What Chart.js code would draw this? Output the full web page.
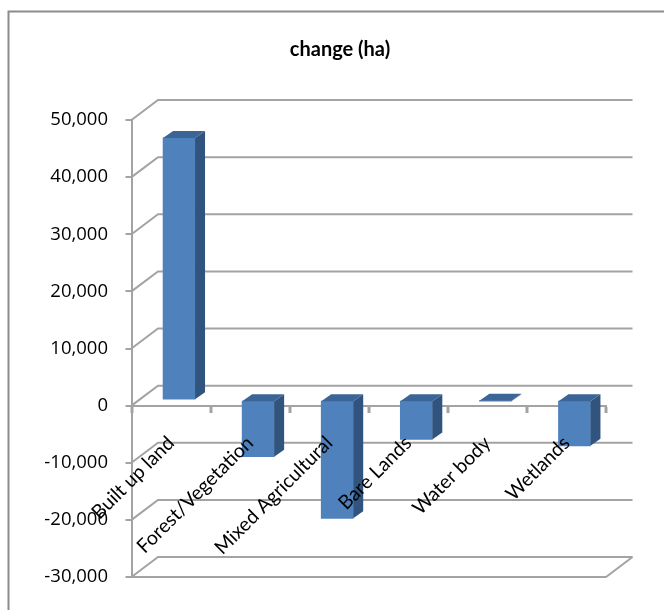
<!DOCTYPE html>
<html><head><meta charset="utf-8">
<style>html,body{margin:0;padding:0;background:#fff}canvas{display:block}</style>
<script src="https://cdn.jsdelivr.net/npm/chart.js@4"></script></head>
<body><canvas id="c" width="664" height="610"></canvas>
<script>
const categories = ["Built up land","Forest/Vegetation","Mixed Agricultural","Bare Lands","Water body","Wetlands"];
const changeHa = [45900,-9900,-20700,-6900,-100,-8000];
const chartTitle = "change (ha)";
const GRID = "#a3a3a3";
const wallDx = 26.5, wallDy = -20;
const barDx = 8, barDy = -5.5, depthX = 10, depthY = -7;
function line(ctx,pts,color,w){ctx.save();ctx.strokeStyle=color;ctx.lineWidth=w;ctx.beginPath();pts.forEach((p,i)=>i?ctx.lineTo(p[0],p[1]):ctx.moveTo(p[0],p[1]));ctx.stroke();ctx.restore();}
function poly(ctx,pts,color){ctx.fillStyle=color;ctx.beginPath();pts.forEach((p,i)=>i?ctx.lineTo(p[0],p[1]):ctx.moveTo(p[0],p[1]));ctx.closePath();ctx.fill();}
const scene = {
  id:"scene",
  afterLayout(chart){ if(chart.titleBlock){chart.titleBlock.left=16;chart.titleBlock.right=664;} },
  beforeDraw(chart){
    const ctx=chart.ctx;
    line(ctx,[[8.5,610],[8.5,11.5],[664,11.5]],"#8c8c8c",2);
  },
  beforeDatasetsDraw(chart){
    const ctx=chart.ctx,y=chart.scales.y,a=chart.chartArea;
    y.ticks.forEach(t=>{
      const p=y.getPixelForValue(t.value);
      line(ctx,[[a.left,p],[a.left+wallDx,p+wallDy],[a.right+wallDx,p+wallDy]],GRID,2);
    });
    line(ctx,[[a.left,a.bottom],[a.right,a.bottom],[a.right+wallDx,a.bottom+wallDy]],GRID,2);
    ctx.save();ctx.translate(barDx,barDy);
  },
  afterDatasetsDraw(chart){
    const ctx=chart.ctx;
    chart.getDatasetMeta(0).data.forEach(b=>{
      const l=b.x-b.width/2,r=b.x+b.width/2,t=Math.min(b.y,b.base),u=Math.max(b.y,b.base);
      poly(ctx,[[r,t],[r+depthX,t+depthY],[r+depthX,u+depthY],[r,u]],"#31547f");
      poly(ctx,[[l,t],[l+depthX,t+depthY],[r+depthX,t+depthY],[r,t]],"#3c6597");
    });
    ctx.restore();
  }
};
new Chart(document.getElementById("c"),{
  type:"bar",
  data:{labels:categories,datasets:[{label:chartTitle,data:changeHa,backgroundColor:"#4f81bd",barThickness:32,clip:false}]},
  options:{
    responsive:false,animation:false,
    layout:{padding:{left:0,right:58,top:0,bottom:33}},
    plugins:{legend:{display:false},tooltip:{enabled:false},
      title:{display:true,text:chartTitle,color:"#000",font:{family:"Lato",size:20,weight:"bold",lineHeight:1.2},padding:{top:38,bottom:58}}},
    scales:{
      x:{position:{y:0},offset:true,
        grid:{offset:true,drawOnChartArea:false,drawTicks:true,tickLength:6,tickWidth:3,color:GRID,lineWidth:2},
        border:{color:GRID,width:2},
        ticks:{z:1,autoSkip:false,minRotation:45,maxRotation:45,padding:20,color:"#000",font:{family:"Lato",size:19.5}}},
      y:{min:-30000,max:50000,
        afterFit(s){s.width=131.5;},
        grid:{drawOnChartArea:false,drawTicks:true,tickLength:6,tickWidth:2,color:GRID,lineWidth:2},
        border:{color:GRID,width:2},
        ticks:{stepSize:10000,padding:17.5,color:"#000",font:{family:"Open Sans",size:18.5},callback:v=>v.toLocaleString("en-US")}}
    }
  },
  plugins:[scene]
});
</script></body></html>
